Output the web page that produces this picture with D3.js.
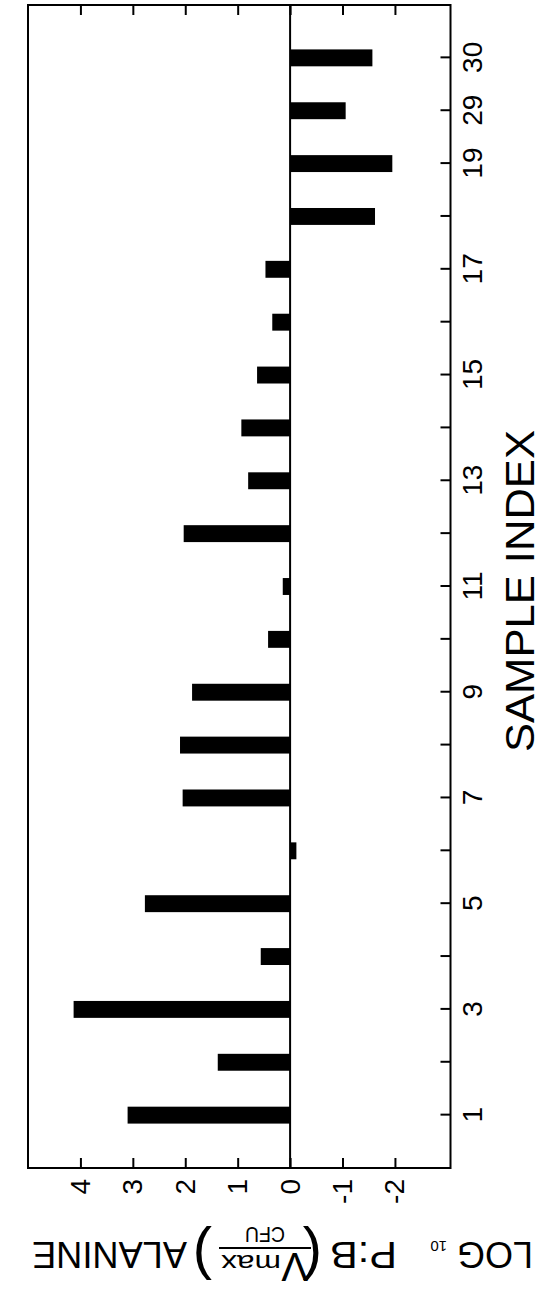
<!DOCTYPE html>
<meta charset='utf-8'>
<style>
    body {
        margin: 0;
        background: #fff;
    }
    text {
        font-family: 'Liberation Sans', Arial, Helvetica, sans-serif;
        fill: #000;
    }
    .axis path {
        display: none;
    }
    .axis line {
        stroke: #000;
        stroke-width: 2px;
    }
    .tick text {
        font-family: 'Liberation Sans', Arial, Helvetica, sans-serif;
        font-size: 28px;
    }
</style>
<body>
<div id='container'></div>
<script src='https://d3js.org/d3.v7.min.js'></script>
<script>
    // samples in plotting order (the axis jumps from 19 to 29)
    const samples = [ '1', '2', '3', '4', '5', '6', '7', '8', '9', '10', '11', '12',
        '13', '14', '15', '16', '17', '18', '19', '29', '30' ];
    const values = [ 3.1, 1.38, 4.13, 0.56, 2.77, -0.12, 2.05, 2.1, 1.87, 0.42, 0.14,
        2.03, 0.8, 0.93, 0.63, 0.34, 0.47, -1.62, -1.95, -1.06, -1.57 ];
    const labelledSamples = [ '1', '3', '5', '7', '9', '11', '13', '15', '17', '19', '29', '30' ];
    const valueTicks = [ -2, -1, 0, 1, 2, 3, 4 ];
    const valueDomain = [ -3.06, 5 ];

    const pageW = 548, pageH = 1294;

    // the figure is laid out landscape, then turned a quarter turn anticlockwise
    const margin = { top: 28, right: 5, bottom: 97.5, left: 126 },
        width = pageH - margin.left - margin.right,
        height = pageW - margin.top - margin.bottom;

    let xScale = d3.scaleLinear()
        .domain( [0, samples.length + 1] )
        .range( [0, width] );
    let yScale = d3.scaleLinear()
        .domain( valueDomain )
        .range( [height, 0] );

    let svg = d3.select( '#container' )
        .append( 'svg' )
        .attr( 'width', pageW )
        .attr( 'height', pageH );

    let page = svg.append( 'g' )
        .attr( 'transform', `translate( 0, ${pageH} ) rotate( -90 )` );

    let chart = page.append( 'g' )
        .attr( 'transform', `translate( ${margin.left}, ${margin.top} )` );

    let xAxis = d3.axisBottom( xScale )
        .tickValues( d3.range( 1, samples.length + 1 ) )
        .tickSizeInner( -10 )
        .tickSizeOuter( 0 )
        .tickPadding( 12 )
        .tickFormat( i => labelledSamples.includes( samples[ i - 1 ] ) ? samples[ i - 1 ] : '' );

    let yAxis = d3.axisLeft( yScale )
        .tickValues( valueTicks )
        .tickSizeInner( -10 )
        .tickSizeOuter( 0 )
        .tickPadding( 11 )
        .tickFormat( d => String( d ) );

    let yAxisMirror = d3.axisRight( yScale )
        .tickValues( valueTicks )
        .tickSizeInner( -10 )
        .tickSizeOuter( 0 )
        .tickFormat( '' );

    chart.append( 'g' )
        .attr( 'class', 'x axis' )
        .attr( 'transform', `translate( 0, ${height} )` )
        .call( xAxis );

    chart.append( 'g' )
        .attr( 'class', 'y axis' )
        .call( yAxis );

    chart.append( 'g' )
        .attr( 'class', 'y axis mirror' )
        .attr( 'transform', `translate( ${width}, 0 )` )
        .call( yAxisMirror );

    // frame
    chart.append( 'rect' )
        .attr( 'width', width )
        .attr( 'height', height )
        .attr( 'fill', 'none' )
        .attr( 'stroke', '#000' )
        .attr( 'stroke-width', 2 );

    // zero line
    chart.append( 'line' )
        .attr( 'x1', 0 )
        .attr( 'x2', width )
        .attr( 'y1', yScale( 0 ) )
        .attr( 'y2', yScale( 0 ) )
        .attr( 'stroke', '#000' )
        .attr( 'stroke-width', 2 );

    const barW = xScale( 0.32 ) - xScale( 0 );

    chart.selectAll( '.bar' )
        .data( values )
        .enter().append( 'rect' )
            .attr( 'class', 'bar' )
            .attr( 'x', ( d, i ) => xScale( i + 1 ) - barW / 2 )
            .attr( 'width', barW )
            .attr( 'y', d => yScale( Math.max( 0, d ) ) )
            .attr( 'height', d => Math.abs( yScale( d ) - yScale( 0 ) ) )
            .attr( 'fill', '#000' );

    // x title
    page.append( 'text' )
        .attr( 'x', 703 )
        .attr( 'y', 534 )
        .attr( 'text-anchor', 'middle' )
        .attr( 'textLength', 322 )
        .attr( 'lengthAdjust', 'spacingAndGlyphs' )
        .style( 'font-size', '40px' )
        .text( 'SAMPLE  INDEX' );

    // y title, built piece by piece: LOG10 P:B (Vmax / CFU) ALANINE
    let yTitle = page.append( 'g' )
        .attr( 'transform', 'translate( 52, 282.5 ) rotate( -90 )' );

    const u0 = -250.5;
    const piece = ( txt, u, y, size, len ) => {
        let t = yTitle.append( 'text' )
            .attr( 'x', u0 + u )
            .attr( 'y', y )
            .style( 'font-size', size + 'px' )
            .text( txt );
        if ( len ) {
            t.attr( 'textLength', len ).attr( 'lengthAdjust', 'spacingAndGlyphs' );
        }
        return t;
    };

    piece( 'LOG', 0, 0, 37, 76 );
    piece( '10', 86, 1, 15 );
    piece( 'P:B', 136, 0, 37, 67 );
    piece( '(', 211, 4, 58 );
    piece( 'V', 225, -11, 40 );
    piece( 'max', 252, -13, 24, 60 );
    yTitle.append( 'line' )
        .attr( 'x1', u0 + 222 )
        .attr( 'x2', u0 + 314 )
        .attr( 'y1', -6 )
        .attr( 'y2', -6 )
        .attr( 'stroke', '#000' )
        .attr( 'stroke-width', 2 );
    piece( 'CFU', 248, 15, 22, 40 );
    piece( ')', 321, 4, 58 );
    piece( 'ALANINE', 346, 0, 37, 155 );
</script>
</body>
